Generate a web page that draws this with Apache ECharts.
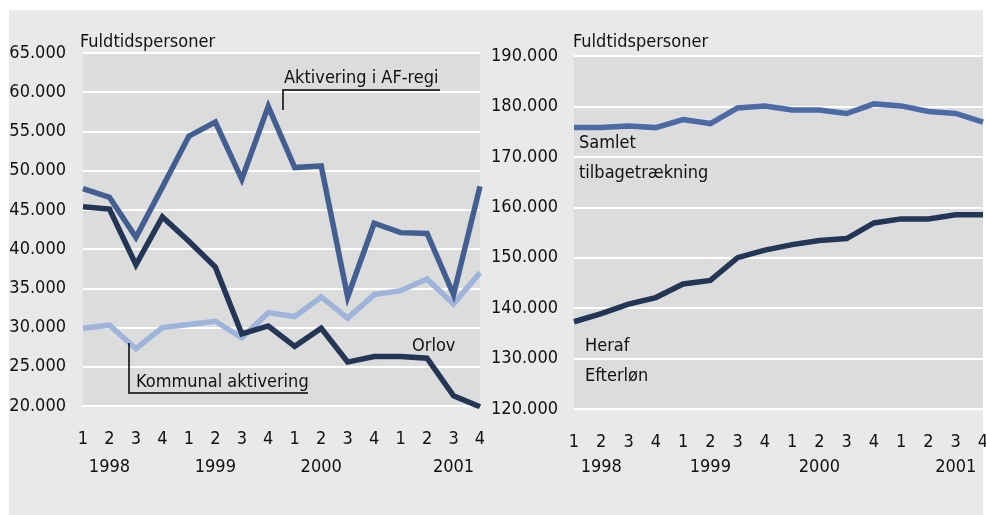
<!DOCTYPE html>
<html>
<head>
<meta charset="utf-8">
<script src="https://cdn.jsdelivr.net/npm/echarts@6/dist/echarts.min.js"></script>
<style>
html,body{margin:0;padding:0;background:#ffffff;}
#chart{width:986px;height:515px;}
</style>
</head>
<body>
<div id="chart"></div>
<script>
// ---- data ----
const quarters = ['1','2','3','4','1','2','3','4','1','2','3','4','1','2','3','4'];
const years = ['1998','1999','2000','2001'];
const aktiveringAF = [47700,46600,41500,47900,54400,56200,48900,58200,50400,50600,33900,43300,42100,42000,34200,48000];
const orlov = [45400,45100,38000,44100,41000,37700,29200,30200,27600,29900,25600,26300,26300,26100,21300,19900];
const kommunal = [29900,30300,27300,30000,30400,30800,28700,31900,31400,33900,31200,34200,34700,36200,33000,37000];
const samlet = [175800,175800,176100,175800,177400,176600,179700,180100,179300,179300,178600,180500,180100,179000,178600,176900];
const efterlon = [137300,138900,140800,142100,144800,145500,150000,151500,152600,153400,153800,156900,157700,157700,158500,158500];
const leftTicks = {min:20000, max:65000, interval:5000};
const rightTicks = {min:120000, max:190000, interval:10000};

// ---- layout / style ----
const FONT = '"DejaVu Sans Condensed", "Liberation Sans", Arial, sans-serif';
const FS = 18;
const TXT = '#111111';
const yearPosLeft = [0.64, 4.8, 9.28, 13.6];
const yearPosRight = [0.69, 5.25, 9.47, 13.8];

function fmt(v){ return String(v).replace(/\B(?=(\d{3})+(?!\d))/g, '.'); }

const chart = echarts.init(document.getElementById('chart'), null, {renderer:'canvas'});

function xAxis(gridIndex){
  return {
    type:'category', gridIndex, data:quarters, boundaryGap:false,
    axisLine:{show:false}, axisTick:{show:false}, splitLine:{show:false},
    axisLabel:{color:TXT, fontFamily:FONT, fontSize:FS, margin:24, interval:0}
  };
}
function yAxis(gridIndex, t, margin){
  return {
    type:'value', gridIndex, min:t.min, max:t.max, interval:t.interval,
    axisLine:{show:false}, axisTick:{show:false},
    splitLine:{show:true, lineStyle:{color:'#ffffff', width:2}},
    axisLabel:{color:TXT, fontFamily:FONT, fontSize:FS, margin:margin, formatter:fmt}
  };
}
function line(name, data, color, xi){
  return {
    name, type:'line', xAxisIndex:xi, yAxisIndex:xi, data, symbol:'none',
    lineStyle:{color, width:5.5, join:'miter'}, itemStyle:{color}, animation:false
  };
}

const option = {
  backgroundColor:'#ffffff',
  animation:false,
  grid:[
    {left:83, right:506, top:53, bottom:109, show:true, backgroundColor:'#dcdcdc', borderWidth:0, outerBoundsMode:'none'},
    {left:574, right:3, top:56, bottom:106, show:true, backgroundColor:'#dcdcdc', borderWidth:0, outerBoundsMode:'none'}
  ],
  xAxis:[xAxis(0), xAxis(1)],
  yAxis:[yAxis(0, leftTicks, 17), yAxis(1, rightTicks, 16)],
  series:[
    line('Kommunal aktivering', kommunal, '#9fb4da', 0),
    line('Orlov', orlov, '#243656', 0),
    line('Aktivering i AF-regi', aktiveringAF, '#435e90', 0),
    line('Samlet tilbagetrækning', samlet, '#4b6aa6', 1),
    line('Heraf Efterløn', efterlon, '#243656', 1)
  ]
};
chart.setOption(option);

function txt(x, y, s, align){
  return {type:'text', x, y, z:100, style:{text:s, fill:TXT, font:FS + 'px ' + FONT, textAlign:align||'left', textVerticalAlign:'middle'}};
}
const graphics = [
  {type:'rect', shape:{x:9, y:10, width:974, height:505}, style:{fill:'#e9e9e9'}, z:-10, silent:true},
  txt(80, 42, 'Fuldtidspersoner'),
  txt(573, 42, 'Fuldtidspersoner'),
  txt(284, 78, 'Aktivering i AF-regi'),
  {type:'polyline', z:100, shape:{points:[[283,110],[283,90],[440,90]]}, style:{stroke:'#000', lineWidth:1.5, fill:null}},
  txt(136, 382, 'Kommunal aktivering'),
  {type:'polyline', z:100, shape:{points:[[129,343],[129,393],[308,393]]}, style:{stroke:'#000', lineWidth:1.5, fill:null}},
  txt(412, 346, 'Orlov'),
  txt(579, 143, 'Samlet'),
  txt(579, 173, 'tilbagetrækning'),
  txt(585, 346, 'Heraf'),
  txt(585, 376, 'Efterløn')
];
years.forEach((y, i) => {
  const pl = chart.convertToPixel({xAxisIndex:0}, yearPosLeft[i]);
  const pr = chart.convertToPixel({xAxisIndex:1}, yearPosRight[i]);
  graphics.push(txt(pl, 467, y, 'center'));
  graphics.push(txt(pr, 467, y, 'center'));
});
chart.setOption({graphic:graphics});
</script>
</body>
</html>
